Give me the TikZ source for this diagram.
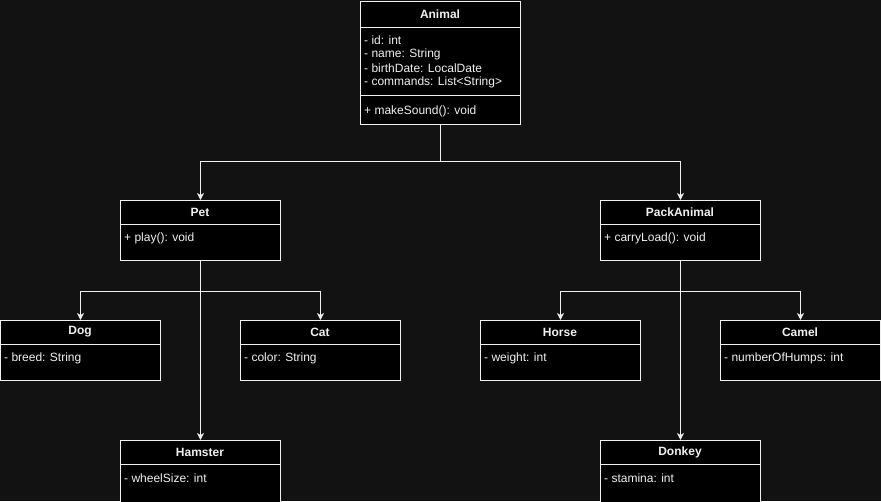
\documentclass[tikz,border=0pt]{standalone}
\usepackage{fontspec}
\setmainfont{Liberation Sans}
\usetikzlibrary{arrows.meta}
\definecolor{bgc}{RGB}{18,18,18}
\definecolor{fg}{RGB}{240,240,240}
\begin{document}
\begin{tikzpicture}[x=1pt,y=-1pt,
  umlbox/.style={draw=fg, fill=black, line width=1pt, minimum width=160pt, inner sep=0pt, anchor=north west},
  hdr/.style={text=fg, font=\fontsize{12}{14}\selectfont\bfseries, inner sep=0pt},
  attr/.style={text=fg, font=\fontsize{12}{14}\selectfont, inner sep=0pt, anchor=west},
  divl/.style={draw=fg, line width=1pt},
  conn/.style={draw=fg, line width=1pt, -{Stealth[length=7pt,width=7pt,inset=2pt]}}]
\fill[bgc] (0,0) rectangle (881,501);
\clip (0,0) rectangle (881,501);
\useasboundingbox (0,0) rectangle (881,501);
% Animal
\node[umlbox, minimum height=123pt] (animal) at (360,1) {};
\node[hdr] (animalT) at (440,14) {Animal};
\draw[divl] (360,27) -- (520,27);
\node[attr] (a1) at (364,40) {- id: int};
\node[attr] (a2) at (364,54) {- name: String};
\node[attr] (a3) at (364,68) {- birthDate: LocalDate};
\node[attr] (a4) at (364,82) {- commands: List<String>};
\draw[divl] (360,95) -- (520,95);
\node[attr] (a5) at (364,111) {+ makeSound(): void};
% Pet
\node[umlbox, minimum height=60pt] (pet) at (120,200) {};
\node[hdr] (petT) at (200,212) {Pet};
\draw[divl] (120,224) -- (280,224);
\node[attr] (p1) at (124,238) {+ play(): void};
% PackAnimal
\node[umlbox, minimum height=60pt] (pack) at (600,200) {};
\node[hdr] (packT) at (680,212) {PackAnimal};
\draw[divl] (600,224) -- (760,224);
\node[attr] (k1) at (604,238) {+ carryLoad(): void};
% Dog
\node[umlbox, minimum height=60pt] (dog) at (0,320) {};
\node[hdr] (dogT) at (80,332) {Dog};
\draw[divl] (0,344) -- (160,344);
\node[attr] (d1) at (4,358) {- breed: String};
% Cat
\node[umlbox, minimum height=60pt] (cat) at (240,320) {};
\node[hdr] (catT) at (320,332) {Cat};
\draw[divl] (240,344) -- (400,344);
\node[attr] (c1) at (244,358) {- color: String};
% Horse
\node[umlbox, minimum height=60pt] (horse) at (480,320) {};
\node[hdr] (horseT) at (560,332) {Horse};
\draw[divl] (480,344) -- (640,344);
\node[attr] (h1) at (484,358) {- weight: int};
% Camel
\node[umlbox, minimum height=60pt] (camel) at (720,320) {};
\node[hdr] (camelT) at (800,332) {Camel};
\draw[divl] (720,344) -- (880,344);
\node[attr] (m1) at (724,358) {- numberOfHumps: int};
% Hamster
\node[umlbox, minimum height=80pt] (hamster) at (120,440) {};
\node[hdr] (hamsterT) at (200,452) {Hamster};
\draw[divl] (120,464) -- (280,464);
\node[attr] (s1) at (124,478) {- wheelSize: int};
% Donkey
\node[umlbox, minimum height=80pt] (donkey) at (600,440) {};
\node[hdr] (donkeyT) at (680,452) {Donkey};
\draw[divl] (600,464) -- (760,464);
\node[attr] (y1) at (604,478) {- stamina: int};
% connectors
\draw[conn] (animal.south) -- ++(0,36) -| (pet.north);
\draw[conn] (animal.south) -- ++(0,36) -| (pack.north);
\draw[conn] (pet.south) -- ++(0,30) -| (dog.north);
\draw[conn] (pet.south) -- ++(0,30) -| (cat.north);
\draw[conn] (pet.south) -- (hamster.north);
\draw[conn] (pack.south) -- ++(0,30) -| (horse.north);
\draw[conn] (pack.south) -- ++(0,30) -| (camel.north);
\draw[conn] (pack.south) -- (donkey.north);
\end{tikzpicture}
\end{document}
